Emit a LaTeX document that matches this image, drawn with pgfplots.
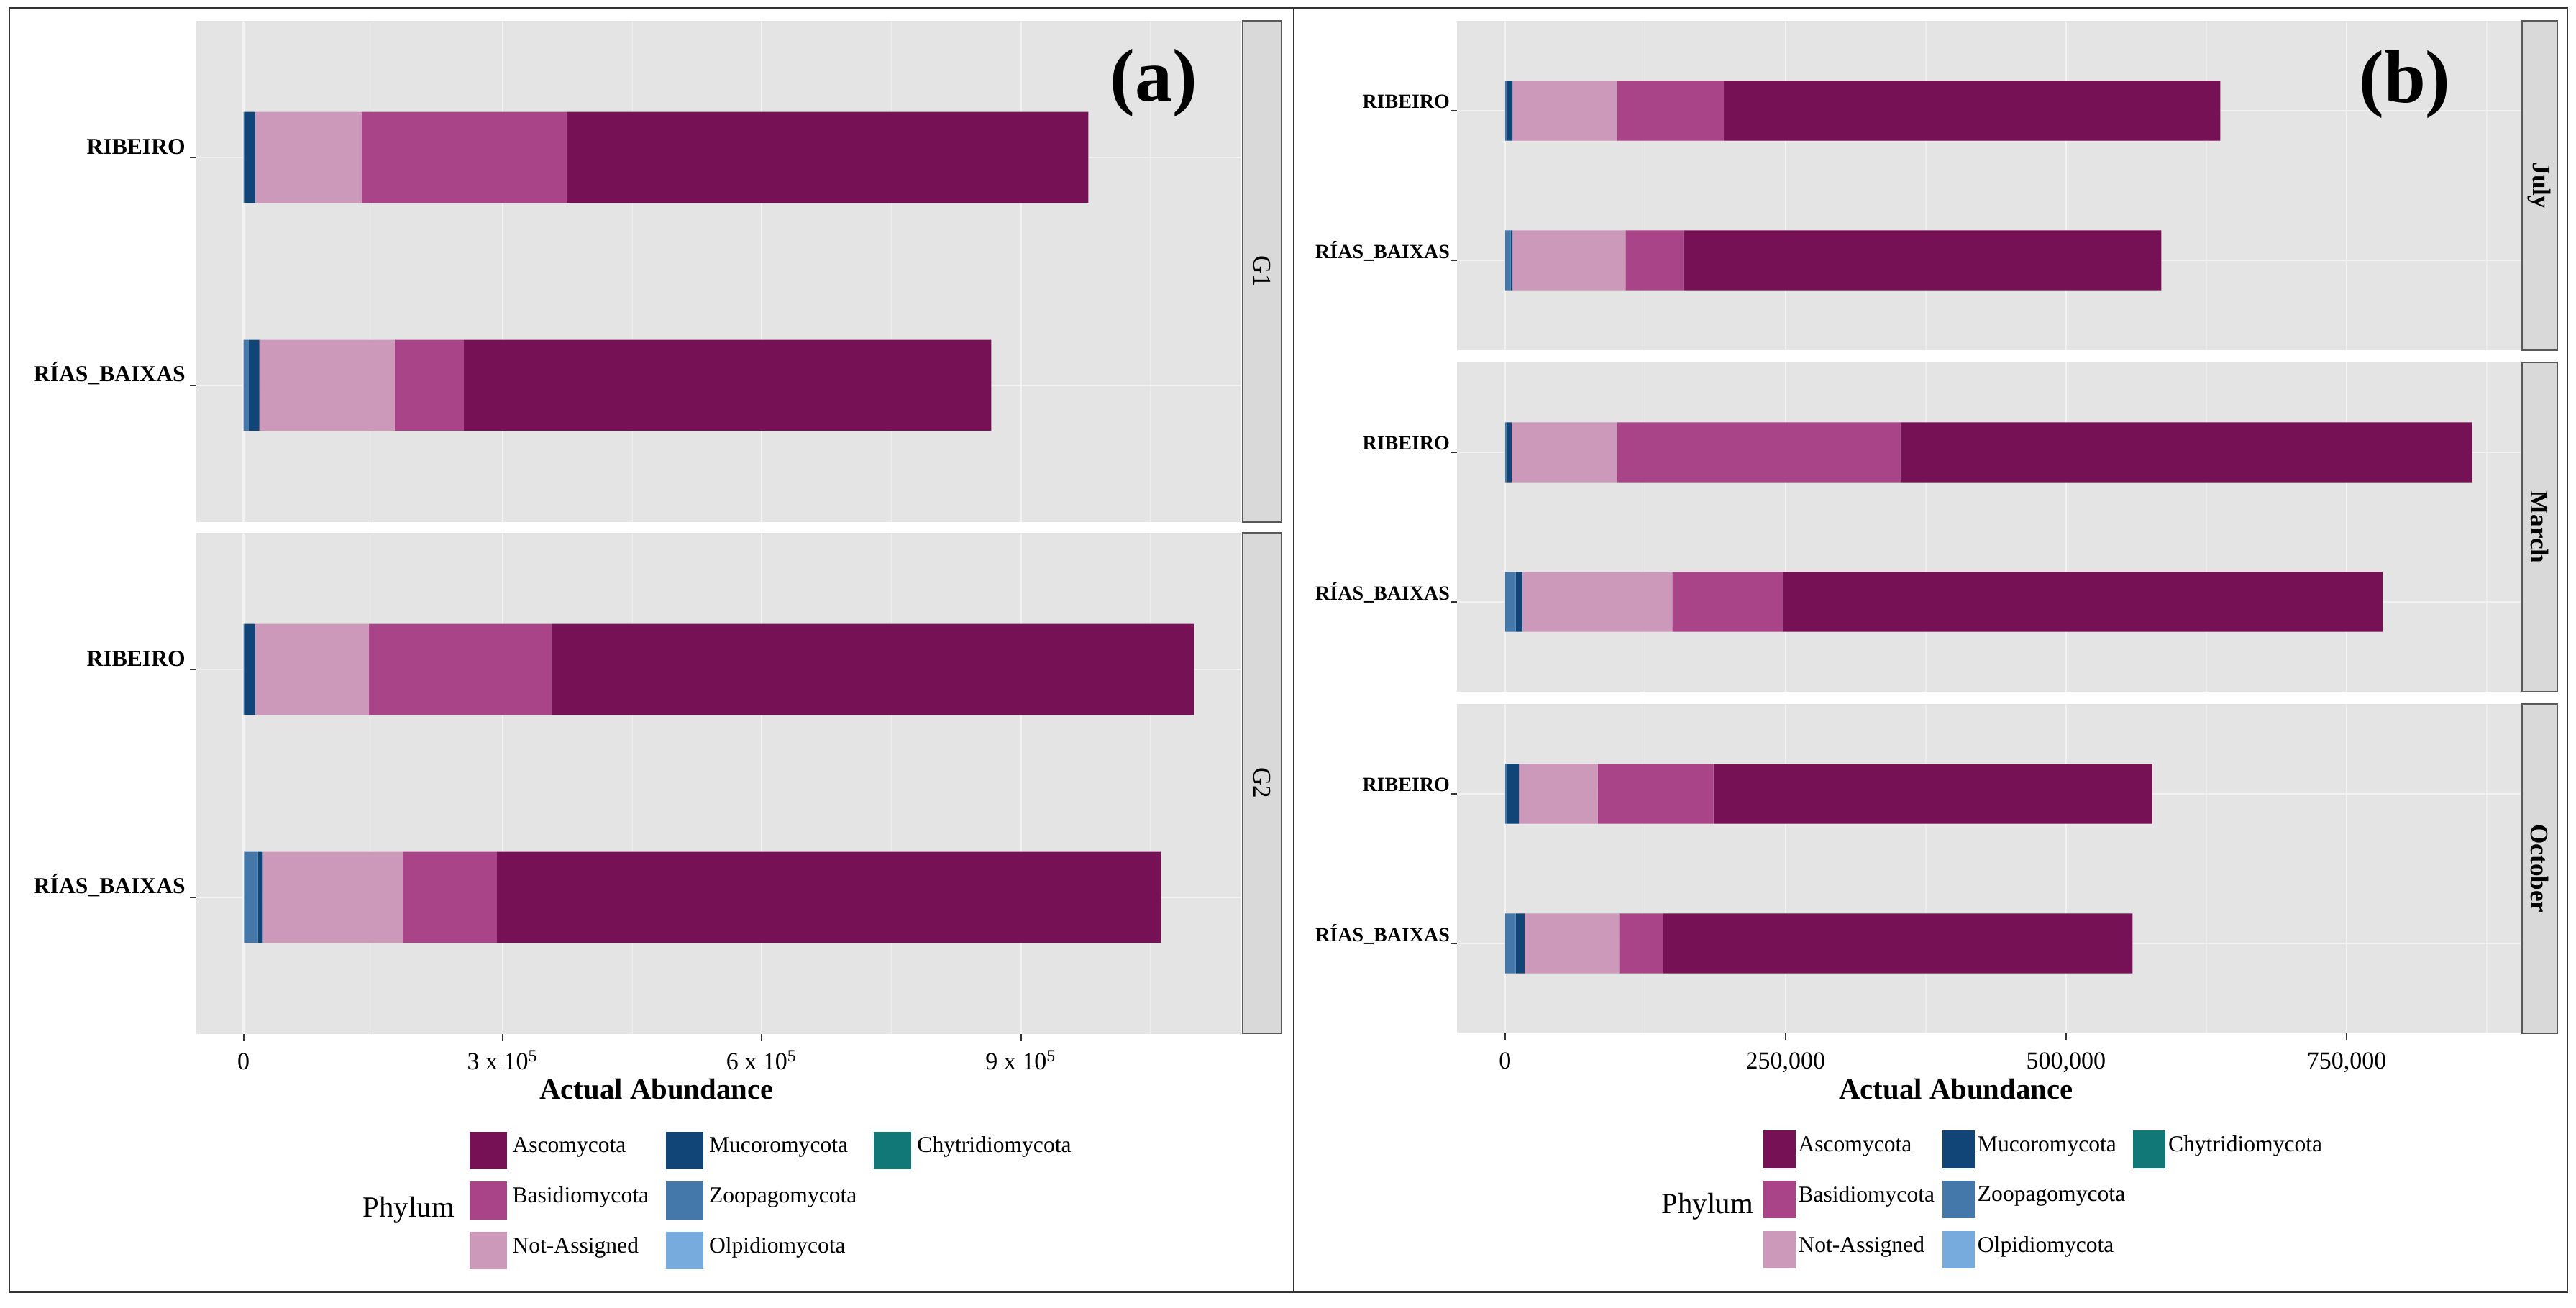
\documentclass[border=0pt]{standalone}
\usepackage{fontspec}
\setmainfont{Liberation Serif}
\usepackage{pgfplots}
\pgfplotsset{compat=1.18}
\usepackage{pgfplotstable}

\definecolor{asco}{HTML}{771155}
\definecolor{basid}{HTML}{AA4488}
\definecolor{notas}{HTML}{CC99BB}
\definecolor{mucor}{HTML}{114477}
\definecolor{zoopa}{HTML}{4477AA}
\definecolor{olpid}{HTML}{77AADD}
\definecolor{chytr}{HTML}{117777}
\definecolor{panelbg}{HTML}{E4E4E4}
\definecolor{stripbg}{HTML}{D9D9D9}
\definecolor{gridmaj}{HTML}{F2F2F2}
\definecolor{gridmin}{HTML}{ECECEC}

% y: 1 = RIBEIRO, 0 = RIAS_BAIXAS ; segment lengths, stacked from left
\pgfplotstableread{
y Chy Olp Zoo Muc NA Bas Asc
1 0 0 2000 11500 123200 237300 604000
0 0 0 6000 12300 156700 80000 610600
}\gone
\pgfplotstableread{
y Chy Olp Zoo Muc NA Bas Asc
1 0 0 2000 11600 131800 211600 743000
0 0 500 16100 5700 162200 108800 768700
}\gtwo
\pgfplotstableread{
y Chy Olp Zoo Muc NA Bas Asc
1 0 0 1500 5100 93500 95000 442300
0 0 0 5000 1600 100800 51200 426200
}\july
\pgfplotstableread{
y Chy Olp Zoo Muc NA Bas Asc
1 0 0 1000 4800 94300 252200 509500
0 0 0 9500 5900 133700 98700 534300
}\march
\pgfplotstableread{
y Chy Olp Zoo Muc NA Bas Asc
1 0 0 2000 10400 70200 103100 391000
0 0 0 9500 8000 84100 39500 418100
}\october

\pgfplotsset{
  facet/.style={
    scale only axis, anchor=north west,
    xbar stacked, bar width=0.4, bar shift=0pt,
    ymin=-0.6, ymax=1.6, ytick={0,1},
    yticklabels={RÍAS\_BAIXAS,RIBEIRO},
    axis background/.style={fill=panelbg},
    axis line style={draw=none},
    tick align=outside, xtick pos=left, ytick pos=left,
    major tick length=2.2pt, minor tick length=0pt,
    tick style={color=black!80, line width=0.5pt},
    xmajorgrids, ymajorgrids, xminorgrids,
    major grid style={color=gridmaj, line width=0.55pt},
    minor grid style={color=gridmin, line width=0.3pt},
    scaled x ticks=false,
    xticklabel style={anchor=base, inner sep=0pt, yshift=-10.25pt,
      font=\fontsize{8.5}{9}\selectfont},
  },
  panela/.style={facet, width=363.375pt, height=174.25pt,
    xmin=-55000, xmax=1155000,
    xtick={0,300000,600000,900000},
    minor xtick={150000,450000,750000,1050000},
    xticklabels={0,{3 x 10\textsuperscript{5}},{6 x 10\textsuperscript{5}},{9 x 10\textsuperscript{5}}},
    yticklabel style={anchor=base east, inner sep=0pt, xshift=-1.3pt, yshift=1.25pt,
      font=\bfseries\fontsize{7.9}{9}\selectfont},
  },
  panelb/.style={facet, width=369.875pt, height=114.5pt,
    xmin=-43100, xmax=905100,
    xtick={0,250000,500000,750000},
    minor xtick={125000,375000,625000,875000},
    xticklabels={0,{250,000},{500,000},{750,000}},
    yticklabel style={anchor=base east, inner sep=0pt, xshift=0pt, yshift=0.75pt,
      font=\bfseries\fontsize{7}{9}\selectfont},
  },
  notop/.style={xmajorticks=false},
}

\newcommand{\bars}[1]{%
  \addplot[fill=chytr, draw=none, forget plot] table[x=Chy, y=y]{#1};
  \addplot[fill=olpid, draw=none, forget plot] table[x=Olp, y=y]{#1};
  \addplot[fill=zoopa, draw=none, forget plot] table[x=Zoo, y=y]{#1};
  \addplot[fill=mucor, draw=none, forget plot] table[x=Muc, y=y]{#1};
  \addplot[fill=notas, draw=none, forget plot] table[x=NA, y=y]{#1};
  \addplot[fill=basid, draw=none, forget plot] table[x=Bas, y=y]{#1};
  \addplot[fill=asco, draw=none, forget plot] table[x=Asc, y=y]{#1};
}
\newcommand{\phylumlegend}{%
  \addlegendimage{fill=asco}\addlegendentry{Ascomycota}
  \addlegendimage{fill=mucor}\addlegendentry{Mucoromycota}
  \addlegendimage{fill=chytr}\addlegendentry{Chytridiomycota}
  \addlegendimage{fill=basid}\addlegendentry{Basidiomycota}
  \addlegendimage{fill=zoopa}\addlegendentry{Zoopagomycota}
  \addlegendimage{empty legend}\addlegendentry{}
  \addlegendimage{fill=notas}\addlegendentry{Not-Assigned}
  \addlegendimage{fill=olpid}\addlegendentry{Olpidiomycota}
}

\begin{document}
\begin{tikzpicture}
\useasboundingbox (0,0) rectangle (895.5pt,454.5pt);

% ---------- (a) ----------
\begin{axis}[panela, notop, at={(68.125pt,447.25pt)}]
\bars{\gone}
\end{axis}
\begin{axis}[panela, at={(68.125pt,269.25pt)},
  legend columns=3, legend cell align=left,
  legend image code/.code={\fill[#1, draw=none] (0pt,-4.75pt) rectangle (13pt,8.3pt);},
  legend style={at={(0.2609,-0.1935)}, anchor=north west, draw=none, fill=none,
    inner sep=0pt, row sep=4.4pt, nodes={inner sep=0pt},
    font=\fontsize{7.9}{9}\selectfont,
    /tikz/every odd column/.style={column sep=2pt},
    /tikz/every even column/.style={column sep=6pt, nodes={yshift=3pt}}}]
\bars{\gtwo}
\phylumlegend
\end{axis}

% ---------- (b) ----------
\begin{axis}[panelb, notop, at={(506.375pt,447.25pt)}]
\bars{\july}
\end{axis}
\begin{axis}[panelb, notop, at={(506.375pt,328.5pt)}]
\bars{\march}
\end{axis}
\begin{axis}[panelb, at={(506.375pt,209.75pt)},
  legend columns=3, legend cell align=left,
  legend image code/.code={\fill[#1, draw=none] (0pt,-4.75pt) rectangle (11.25pt,8.3pt);},
  legend style={at={(0.2874,-0.2941)}, anchor=north west, draw=none, fill=none,
    inner sep=0pt, row sep=4.4pt, nodes={inner sep=0pt},
    font=\fontsize{7.9}{9}\selectfont,
    /tikz/every odd column/.style={column sep=1pt},
    /tikz/every even column/.style={column sep=2.7pt, nodes={yshift=3pt}}}]
\bars{\october}
\phylumlegend
\end{axis}

% ---------- frame, strips, titles (pixel grid, y up) ----------
\begin{scope}[x=0.25pt, y=0.25pt]
\draw[black!80, line width=0.6pt] (13,21) rectangle (3570,1807);
\draw[black!80, line width=0.6pt] (1799,21) -- (1799,1807);

\tikzset{strip/.style={fill=stripbg, draw=black!65, line width=0.5pt}}
\draw[strip] (1728,1789) rectangle (1782,1092);
\draw[strip] (1728,1077) rectangle (1782,381);
\node[rotate=-90, font=\fontsize{8.8}{9}\selectfont] at (1755,1440.5) {G1};
\node[rotate=-90, font=\fontsize{8.8}{9}\selectfont] at (1755,729) {G2};

\draw[strip] (3506.5,1789) rectangle (3556,1331);
\draw[strip] (3506.5,1314) rectangle (3556,856);
\draw[strip] (3506.5,839) rectangle (3556,381);
\node[rotate=-90, font=\bfseries\fontsize{8.8}{9}\selectfont] at (3531.25,1560) {July};
\node[rotate=-90, font=\bfseries\fontsize{8.8}{9}\selectfont] at (3531.25,1085) {March};
\node[rotate=-90, font=\bfseries\fontsize{8.8}{9}\selectfont] at (3531.25,610) {October};

\node[anchor=base, font=\bfseries\fontsize{26}{28}\selectfont] at (1604,1677) {(a)};
\node[anchor=base, font=\bfseries\fontsize{26}{28}\selectfont] at (3344,1675) {(b)};

\node[anchor=base, font=\bfseries\fontsize{10.2}{11}\selectfont] at (913,289) {Actual Abundance};
\node[anchor=base, font=\bfseries\fontsize{10.2}{11}\selectfont] at (2720,289) {Actual Abundance};

\node[anchor=base west, inner sep=0pt, font=\fontsize{10.2}{11}\selectfont] at (504,125) {Phylum};
\node[anchor=base west, inner sep=0pt, font=\fontsize{10.2}{11}\selectfont] at (2310,130) {Phylum};
\end{scope}
\end{tikzpicture}
\end{document}
